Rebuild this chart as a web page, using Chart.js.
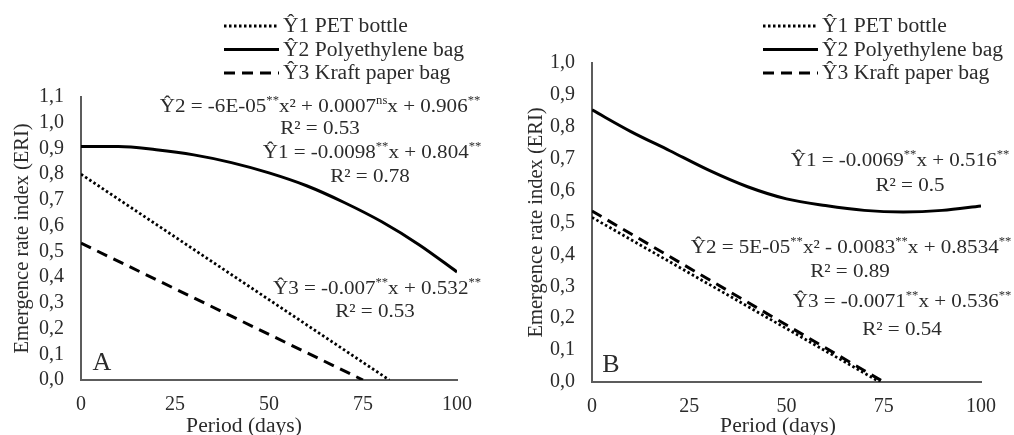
<!DOCTYPE html>
<html lang="en">
<head>
    <meta charset="UTF-8">
    <title>Emergence rate index</title>
    <script src="https://cdn.jsdelivr.net/npm/chart.js@4.4.1/dist/chart.umd.min.js"></script>
    <style>
        body { margin: 0; background: #fff; }
        .panel { position: absolute; top: 0; width: 507px; height: 435px; }
    </style>
</head>
<body>

<div class="panel" style="left:0"><canvas id="chart-a" width="507" height="435"></canvas></div>
<div class="panel" style="left:507px"><canvas id="chart-b" width="507" height="435"></canvas></div>

<script>

    const seriesNames = ['\u01761 PET bottle', '\u01762 Polyethylene bag', '\u01763 Kraft paper bag'];
    const xTicks = [0, 25, 50, 75, 100];
    const xTitle = 'Period (days)';
    const yTitle = 'Emergence rate index (ERI)';

    // panel A
    const yTicksA = [0, 0.1, 0.2, 0.3, 0.4, 0.5, 0.6, 0.7, 0.8, 0.9, 1.0, 1.1];
    const daysPolyA = [0, 10, 20, 30, 40, 50, 60, 70, 80, 90, 100];
    const polyA = [0.908, 0.908, 0.895, 0.875, 0.845, 0.805, 0.755, 0.69, 0.615, 0.525, 0.42];
    const daysPetA = [0, 82];
    const petA = [0.80, 0];
    const daysKraftA = [0, 75];
    const kraftA = [0.532, 0];
    const equationsA = [
        '\u01762 = -6E-05{**}x\u00b2 + 0.0007{ns}x + 0.906{**}', 'R\u00b2 = 0.53',
        '\u01761 = -0.0098{**}x + 0.804{**}', 'R\u00b2 = 0.78',
        '\u01763 = -0.007{**}x + 0.532{**}', 'R\u00b2 = 0.53'
    ];

    // panel B
    const yTicksB = [0, 0.1, 0.2, 0.3, 0.4, 0.5, 0.6, 0.7, 0.8, 0.9, 1.0];
    const daysPolyB = [0, 10, 20, 30, 40, 50, 60, 70, 80, 90, 100];
    const polyB = [0.853, 0.785, 0.725, 0.664, 0.612, 0.574, 0.553, 0.538, 0.533, 0.538, 0.552];
    const daysPetB = [0, 74];
    const petB = [0.516, 0];
    const daysKraftB = [0, 75];
    const kraftB = [0.536, 0];
    const equationsB = [
        '\u01761 = -0.0069{**}x + 0.516{**}', 'R\u00b2 = 0.5',
        '\u01762 = 5E-05{**}x\u00b2 - 0.0083{**}x + 0.8534{**}', 'R\u00b2 = 0.89',
        '\u01763 = -0.0071{**}x + 0.536{**}', 'R\u00b2 = 0.54'
    ];

    const serif = '"Liberation Serif", "Times New Roman", serif';
    const textColor = '#2b2b2b';
    const axisColor = '#5c5c5c';
    const stretch = 1.08; // the source figure's lettering is a bit wide

    const toPoints = (xs, ys) => xs.map((x, i) => ({x: x, y: ys[i]}));
    const comma = v => v.toFixed(1).replace('.', ',');

    // draws a string where {..} parts are superscript, centred on cx
    function richText(ctx, str, cx, cy, size) {
        const parts = str.split(/(\{[^}]*\})/).filter(s => s.length);
        const pieces = parts.map(p => {
            const sup = p[0] === '{';
            const t = sup ? p.slice(1, -1) : p;
            ctx.font = (sup ? size * 0.6 : size) + 'px ' + serif;
            return {t: t, sup: sup, w: ctx.measureText(t).width};
        });
        const total = pieces.reduce((a, p) => a + p.w, 0);
        ctx.save();
        ctx.translate(cx, cy);
        ctx.scale(stretch, 1);
        let x = -total / 2;
        ctx.textBaseline = 'middle';
        ctx.textAlign = 'left';
        pieces.forEach(p => {
            ctx.font = (p.sup ? size * 0.6 : size) + 'px ' + serif;
            ctx.fillText(p.t, x, p.sup ? -size * 0.32 : 0);
            x += p.w;
        });
        ctx.restore();
    }

    const extrasPlugin = {
        id: 'extras',
        afterDraw(chart, args, opts) {
            const ctx = chart.ctx;
            ctx.save();
            ctx.fillStyle = textColor;
            // legend
            chart.data.datasets.forEach((ds, i) => {
                const y = opts.legendTop + i * 23.5;
                ctx.strokeStyle = '#000';
                ctx.lineWidth = ds.borderWidth;
                ctx.setLineDash(ds.borderDash || []);
                ctx.beginPath();
                ctx.moveTo(opts.legendX, y);
                ctx.lineTo(opts.legendX + 55, y);
                ctx.stroke();
                ctx.setLineDash([]);
                ctx.save();
                ctx.translate(opts.legendX + 59, y + 1);
                ctx.scale(stretch, 1);
                ctx.font = '20px ' + serif;
                ctx.textAlign = 'left';
                ctx.textBaseline = 'middle';
                ctx.fillText(ds.label, 0, 0);
                ctx.restore();
            });
            // regression equations
            opts.texts.forEach((t, i) => {
                const p = opts.positions[i];
                richText(ctx, t, p[0], p[1], 19.5);
            });
            // x axis title
            richText(ctx, xTitle, opts.xTitlePos[0], opts.xTitlePos[1], 20);
            // panel letter
            ctx.font = '26px ' + serif;
            ctx.textAlign = 'center';
            ctx.textBaseline = 'middle';
            ctx.fillText(opts.letter, opts.letterPos[0], opts.letterPos[1]);
            ctx.restore();
        }
    };

    function makeChart(id, s, cfg) {
        const datasets = [
            {label: seriesNames[0], data: toPoints(s.petX, s.pet), borderDash: [2.5, 2.5], borderWidth: 2.8},
            {label: seriesNames[1], data: toPoints(s.polyX, s.poly), borderWidth: 3, cubicInterpolationMode: 'monotone'},
            {label: seriesNames[2], data: toPoints(s.kraftX, s.kraft), borderDash: [11, 7], borderWidth: 3}
        ].map(d => Object.assign({borderColor: '#000', pointRadius: 0, fill: false}, d));

        return new Chart(id, {
            type: 'line',
            data: {datasets: datasets},
            options: {
                responsive: false,
                animation: false,
                layout: {padding: cfg.padding},
                plugins: {
                    legend: {display: false},
                    tooltip: {enabled: false},
                    extras: cfg.extras
                },
                scales: {
                    x: {
                        type: 'linear',
                        min: 0, max: 100,
                        afterBuildTicks: sc => { sc.ticks = xTicks.map(v => ({value: v})); },
                        afterFit: sc => { sc.height = cfg.xHeight; },
                        grid: {display: false, drawTicks: false},
                        border: {color: axisColor, width: 2},
                        ticks: {color: textColor, font: {family: serif, size: 20}, padding: 13, maxRotation: 0}
                    },
                    y: {
                        min: 0, max: cfg.yTicks[cfg.yTicks.length - 1],
                        afterBuildTicks: sc => { sc.ticks = cfg.yTicks.map(v => ({value: v})); },
                        afterFit: sc => { sc.width = cfg.yWidth; },
                        grid: {display: false, drawTicks: false},
                        border: {color: axisColor, width: 2},
                        ticks: {autoSkip: false, color: textColor, font: {family: serif, size: 20}, padding: 17,
                                callback: v => comma(v)},
                        title: {display: true, text: yTitle, color: textColor,
                                font: {family: serif, size: 20.5, lineHeight: 1.2}, padding: {top: 4, bottom: 0}}
                    }
                }
            },
            plugins: [extrasPlugin]
        });
    }

    makeChart('chart-a',
        {petX: daysPetA, pet: petA, polyX: daysPolyA, poly: polyA, kraftX: daysKraftA, kraft: kraftA},
        {
            padding: {left: 6, right: 50, top: 97, bottom: 0},
            xHeight: 55, yWidth: 75, yTicks: yTicksA,
            extras: {
                legendX: 224, legendTop: 26, letter: 'A', letterPos: [102, 363],
                xTitlePos: [244, 427],
                texts: equationsA,
                positions: [[320, 107], [320, 129], [372, 153], [370, 177], [377, 289], [375, 312]]
            }
        });

    makeChart('chart-b',
        {petX: daysPetB, pet: petB, polyX: daysPolyB, poly: polyB, kraftX: daysKraftB, kraft: kraftB},
        {
            padding: {left: 13, right: 33, top: 63, bottom: 0},
            xHeight: 53, yWidth: 72, yTicks: yTicksB,
            extras: {
                legendX: 256, legendTop: 26, letter: 'B', letterPos: [104, 365],
                xTitlePos: [271, 427],
                texts: equationsB,
                positions: [[393, 161], [403, 186], [344, 248], [343, 272], [395, 302], [395, 330]]
            }
        });

</script>

</body>
</html>
